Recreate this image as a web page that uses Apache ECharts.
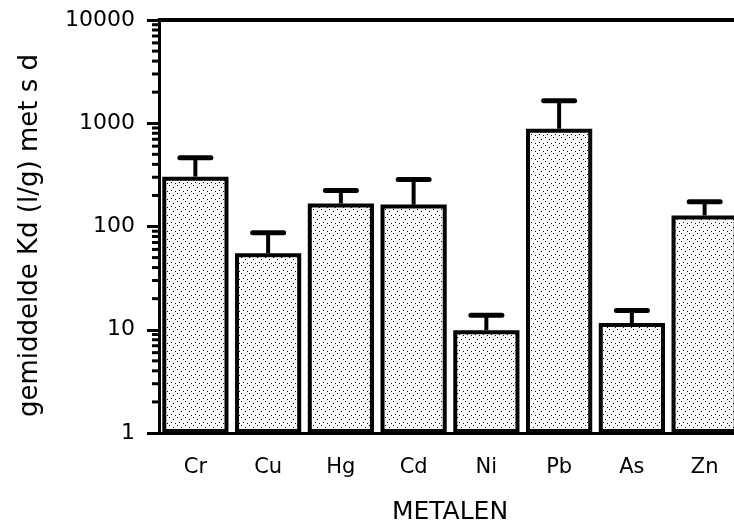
<!DOCTYPE html>
<html><head><meta charset="utf-8">
<script src="https://cdn.jsdelivr.net/npm/echarts@6/dist/echarts.min.js"></script>
<style>html,body{margin:0;padding:0;background:#fff}#c{width:734px;height:524px}</style>
</head><body><div id="c"></div>
<script>
const categories = ['Cr','Cu','Hg','Cd','Ni','Pb','As','Zn'];
const meanKd = [304, 55, 167, 163, 9.9, 885, 11.6, 128];
const upperKd = [464, 87, 223, 285, 13.8, 1650, 15.4, 174];
const yTicks = [1, 10, 100, 1000, 10000];
const minorTickValues = [2,3,4,5,6,7,8,9,20,30,40,50,60,70,80,90,200,300,400,500,600,700,800,900,2000,3000,4000,5000,6000,7000,8000,9000];

const FONT = 'DejaVu Sans';

// stipple pattern
const pc = document.createElement('canvas');
pc.width = 8; pc.height = 8;
const pctx = pc.getContext('2d');
pctx.fillStyle = '#fff'; pctx.fillRect(0,0,8,8);
pctx.fillStyle = '#000';
[[1,1],[5,3],[3,6],[7,7]].forEach(p => pctx.fillRect(p[0],p[1],1,1));

const chart = echarts.init(document.getElementById('c'), null, {renderer:'canvas'});
chart.setOption({
  animation: false,
  backgroundColor: '#fff',
  grid: { left: 159, top: 20, width: 582, bottom: 91, outerBoundsMode: 'none', containLabel: false },
  xAxis: [{
    type: 'category', data: categories,
    axisLine: { lineStyle: { color: '#000', width: 3 } },
    axisTick: { alignWithLabel: true, length: 8, lineStyle: { color: '#000', width: 3 } },
    axisLabel: { color: '#000', fontFamily: FONT, fontSize: 21, margin: 24 },
    name: 'METALEN', nameLocation: 'middle', nameGap: 67,
    nameTextStyle: { color: '#000', fontFamily: FONT, fontSize: 25 }
  }, {
    type: 'category', data: categories, position: 'top',
    axisLine: { lineStyle: { color: '#000', width: 4 } },
    axisTick: { show: false }, axisLabel: { show: false }
  }],
  yAxis: {
    type: 'log', logBase: 10, min: 1, max: 10000,
    axisLine: { show: true, lineStyle: { color: '#000', width: 3 } },
    axisTick: { show: true, length: 12, lineStyle: { color: '#000', width: 3 } },
    splitLine: { show: false },
    axisLabel: { color: '#000', fontFamily: FONT, fontSize: 22, margin: 24,
      formatter: v => yTicks.includes(Math.round(v)) ? String(Math.round(v)) : '' },
    name: 'gemiddelde Kd (l/g) met s d', nameLocation: 'middle', nameGap: 116,
    nameTextStyle: { color: '#000', fontFamily: FONT, fontSize: 26, padding: [0, 18, 0, 0] }
  },
  series: [{
    type: 'bar', data: meanKd, barCategoryGap: '9%',
    itemStyle: { color: { image: pc, repeat: 'repeat' }, borderColor: '#000', borderWidth: 4 },
    z: 2
  }, {
    type: 'custom', z: 3,
    data: categories.map((c, i) => [i, meanKd[i], upperKd[i]]),
    renderItem: (params, api) => {
      const p0 = api.coord([api.value(0), api.value(1)]);
      const p1 = api.coord([api.value(0), api.value(2)]);
      const hw = 15.5;
      return { type: 'group', children: [
        { type: 'line', shape: { x1: p0[0], y1: p0[1], x2: p1[0], y2: p1[1] }, style: { stroke: '#000', lineWidth: 4 } },
        { type: 'line', shape: { x1: p1[0]-hw, y1: p1[1], x2: p1[0]+hw, y2: p1[1] }, style: { stroke: '#000', lineWidth: 5, lineCap: 'round' } }
      ]};
    }
  }, {
    type: 'custom', z: 4,
    data: minorTickValues.map(v => [0, v]),
    renderItem: (params, api) => {
      const p = api.coord([0, api.value(1)]);
      const x0 = params.coordSys.x;
      return { type: 'line', shape: { x1: x0 - 7, y1: p[1], x2: x0, y2: p[1] }, style: { stroke: '#000', lineWidth: 3 } };
    }
  }]
});
</script></body></html>
